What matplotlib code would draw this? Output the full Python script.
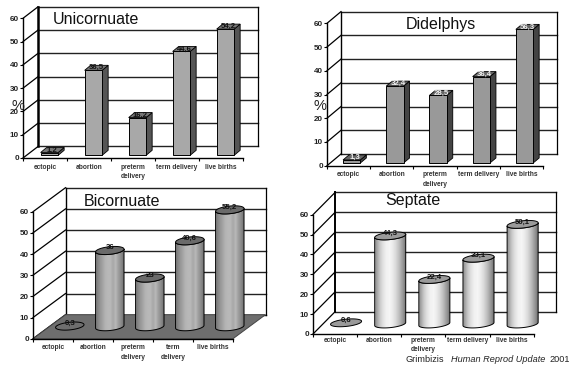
import numpy as np
from matplotlib import pyplot as plt
from matplotlib.patches import Polygon

plt.rcParams['font.family'] = ['Liberation Sans', 'DejaVu Sans']

W, H = 573, 367

categories_a = ['ectopic', 'abortion', 'preterm\ndelivery', 'term delivery', 'live births']
categories_b = ['ectopic', 'abortion', 'preterm\ndelivery', 'term\ndelivery', 'live births']
y_ticks = [0, 10, 20, 30, 40, 50, 60]

uni_values = [1.2, 36.5, 16.2, 44.6, 54.2]
uni_labels = ['1,2', '36,5', '16,2', '44,6', '54,2']
did_values = [1.3, 32.4, 28.5, 36.4, 56.3]
did_labels = ['1,3', '32,4', '28,5', '36,4', '56,3']
bic_values = [0.3, 36, 23, 40.6, 55.2]
bic_labels = ['0,3', '36', '23', '40,6', '55,2']
sep_values = [0.6, 44.3, 22.4, 33.1, 50.1]
sep_labels = ['0,6', '44,3', '22,4', '33,1', '50,1']


def new_panel(left, right, y0, y60, back_dx, back_dy, cats, pad=4):
    # front plane of the box becomes the axes, pixels measured from the top left
    ax = plt.axes([left/W, 1-y0/H, (right-left)/W, (y0-y60)/H])
    ax.set_xlim(0, 5)
    ax.set_ylim(0, 60)
    ax.patch.set_visible(False)
    for s in ['top', 'right']:
        ax.spines[s].set_visible(False)
    for s in ['left', 'bottom']:
        ax.spines[s].set_linewidth(1.0)
    ax.set_yticks(y_ticks)
    ax.set_xticks(range(6))
    ax.set_xticklabels([])
    ax.set_xticks(np.arange(5)+0.5, minor=True)
    ax.set_xticklabels(cats, minor=True, fontsize=4.8, fontweight='bold', color='#333333', linespacing=1.5)
    ax.tick_params(axis='x', which='major', length=2, width=0.8, direction='out')
    ax.tick_params(axis='x', which='minor', length=0, pad=pad)
    ax.tick_params(axis='y', length=2, width=0.8, pad=1, labelsize=5.8, labelcolor='#222222')
    for t in ax.get_yticklabels():
        t.set_fontweight('bold')
    ax.sx = (right-left)/5.0
    ax.sy = (y0-y60)/60.0
    ax.back = (back_dx/ax.sx, back_dy/ax.sy)
    return ax


def shift(ax, x, y, px, py):
    return x+px/ax.sx, y+py/ax.sy


def draw_box(ax, floor=None, lw_back=1.0, grid_color='#222222'):
    bx, by = ax.back
    if floor:
        ax.add_patch(Polygon([(0, 0), (5, 0), (5+bx, by), (bx, by)], fc=floor, ec='#444444', lw=0.7, zorder=2, clip_on=False))
    for v in y_ticks:
        ax.plot([0, bx], [v, v+by], color='black', lw=0.9, clip_on=False, zorder=1)
        ax.plot([bx, 5+bx], [v+by, v+by], color=grid_color, lw=1.0, clip_on=False, zorder=1)
    ax.plot([bx, bx], [by, 60+by], color='black', lw=lw_back, clip_on=False, zorder=1)
    ax.plot([5+bx, 5+bx], [by, 60+by], color='black', lw=0.9, clip_on=False, zorder=1)


def draw_bars(ax, values, labels, off, width, depth, base_py, front, side, top, text_color='#111111'):
    for i, v in enumerate(values):
        x0, y0 = shift(ax, i+0.5, 0, off-width/2, base_py)
        x1 = x0+width/ax.sx
        y1 = y0+v
        dx, dy = depth[0]/ax.sx, depth[1]/ax.sy
        ax.add_patch(Polygon([(x1, y0), (x1+dx, y0+dy), (x1+dx, y1+dy), (x1, y1)], fc=side, ec='black', lw=0.6, clip_on=False, zorder=3))
        ax.add_patch(Polygon([(x0, y1), (x1, y1), (x1+dx, y1+dy), (x0+dx, y1+dy)], fc=top, ec='black', lw=0.6, clip_on=False, zorder=3))
        ax.add_patch(Polygon([(x0, y0), (x1, y0), (x1, y1), (x0, y1)], fc=front, ec='black', lw=0.7, clip_on=False, zorder=4))
        ax.text((x0+x1+dx)/2, y1+dy/2, labels[i], ha='center', va='center', fontsize=5.6, fontweight='bold', color=text_color, zorder=6, clip_on=False)


def ellipse(ax, x, y, a, b, tilt, t):
    # ellipse in pixels, tilted, given back in data units
    c, s = np.cos(tilt), np.sin(tilt)
    px = a*np.cos(t)*c-b*np.sin(t)*s
    py = a*np.cos(t)*s+b*np.sin(t)*c
    return x+px/ax.sx, y+py/ax.sy


def draw_cylinders(ax, values, labels, off, a, b, base_py, shades, top, edge=0.7, flat_fill=None):
    tilt = np.radians(6)
    t_low = np.linspace(np.pi, 2*np.pi, 40)
    t_all = np.linspace(0, 2*np.pi, 80)
    for i, v in enumerate(values):
        xc, yc = shift(ax, i+0.5, 0, off, base_py)
        xb, yb = ellipse(ax, xc, yc, a, b, tilt, t_low)
        xt, yt = ellipse(ax, xc, yc+v, a, b, tilt, t_all)
        xu, yu = ellipse(ax, xc, yc+v, a, b, tilt, t_low[::-1])
        if v > 2:
            body = Polygon(np.column_stack([np.r_[xb, xu], np.r_[yb, yu]]), fc='none', ec='black', lw=edge, clip_on=False, zorder=4)
            ax.add_patch(body)
            im = ax.imshow(np.array(shades)[None, :], cmap='gray', vmin=0, vmax=1, aspect='auto', interpolation='bilinear',
                           extent=[xb.min(), xb.max(), yb.min(), yt.max()], zorder=3)
            im.set_clip_path(body)
            im.set_clip_box(fig.bbox)  # last cylinder sticks out of the axes
        ax.add_patch(Polygon(np.column_stack([xt, yt]), fc=top if v > 0.5 or flat_fill is None else flat_fill, ec='black', lw=edge, clip_on=False, zorder=5))
        ax.text(xc, yc+v+1.2, labels[i], ha='center', va='center', fontsize=5.6, fontweight='bold', color='#111111', zorder=6, clip_on=False)
    ax.set_xlim(0, 5)
    ax.set_ylim(0, 60)


fig = plt.figure(figsize=(W/100, H/100), dpi=100)

# Unicornuate
ax = new_panel(23, 243, 158, 18.3, 15, 11.5, categories_a)
draw_box(ax, lw_back=1.8)
draw_bars(ax, uni_values, uni_labels, 4.4, 17.5, (6, 5), 2.7, '#a8a8a8', '#555555', '#777777')
fig.text(53/W, 1-20/H, 'Unicornuate', fontsize=11.5, va='center', color='#111111')
fig.text(18/W, 1-106/H, '%', fontsize=10.5, ha='center', va='center', color='#222222')

# Didelphys
ax = new_panel(327, 543, 165.7, 23.3, 14, 11.7, categories_a)
draw_box(ax)
draw_bars(ax, did_values, did_labels, 3.1, 17.3, (6, 5), 2.7, '#999999', '#444444', '#666666', text_color='#eeeeee')
fig.text(440.5/W, 1-24/H, 'Didelphys', fontsize=11.5, ha='center', va='center', color='#111111')
fig.text(320/W, 1-106/H, '%', fontsize=10.5, ha='center', va='center', color='#222222')

# Bicornuate
bic_shades = [0.5, 0.58, 0.64, 0.7, 0.72, 0.72, 0.66, 0.72, 0.62, 0.55, 0.45]
ax = new_panel(33, 233, 338.7, 211.7, 32.5, 24, categories_b)
draw_box(ax, floor='#6e6e6e')
draw_cylinders(ax, bic_values, bic_labels, 16.8, 14.3, 3.8, 12, bic_shades, '#6a6a6a', flat_fill='#6e6e6e')
fig.text(122/W, 1-201/H, 'Bicornuate', fontsize=11.5, ha='center', va='center', color='#111111')

# Septate
sep_shades = [0.62, 0.78, 0.88, 0.94, 0.96, 0.92, 0.85, 0.75, 0.62, 0.48]
ax = new_panel(313, 533.7, 334, 214.7, 22.3, 22.5, categories_a, pad=2)
draw_box(ax, lw_back=1.4)
draw_cylinders(ax, sep_values, sep_labels, 11, 15.6, 3.6, 10, sep_shades, '#9a9a9a')
fig.text(413/W, 1-201/H, 'Septate', fontsize=11.5, ha='center', va='center', color='#111111')

# credit line
fig.text(406/W, 1-360/H, 'Grimbizis', fontsize=6.6, va='center', color='#222222')
fig.text(451/W, 1-360/H, 'Human Reprod Update', fontsize=6.6, style='italic', va='center', color='#222222')
fig.text(549/W, 1-360/H, '2001', fontsize=6.6, va='center', color='#222222')

fig.savefig('out.png', dpi=100)
